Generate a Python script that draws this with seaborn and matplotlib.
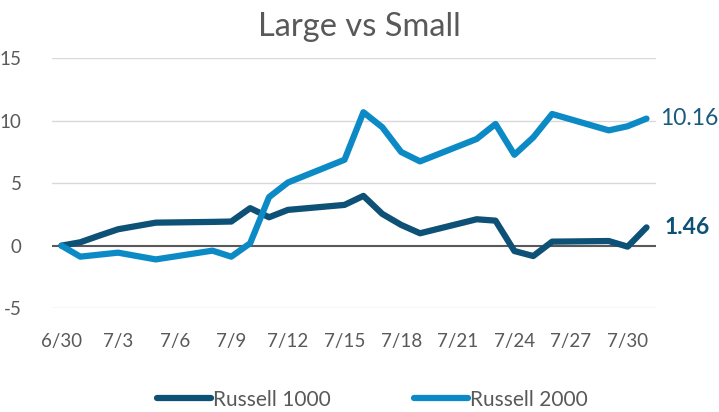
import matplotlib
matplotlib.use("Agg")
import matplotlib.pyplot as plt
import seaborn as sns
import pandas as pd
from matplotlib.lines import Line2D

dates = ["2024-06-30", "2024-07-01", "2024-07-02", "2024-07-03", "2024-07-05",
         "2024-07-08", "2024-07-09", "2024-07-10", "2024-07-11", "2024-07-12",
         "2024-07-15", "2024-07-16", "2024-07-17", "2024-07-18", "2024-07-19",
         "2024-07-22", "2024-07-23", "2024-07-24", "2024-07-25", "2024-07-26",
         "2024-07-29", "2024-07-30", "2024-07-31"]
russell_1000 = [0.0, 0.27, 0.80, 1.31, 1.84, 1.90, 1.93, 3.00, 2.27, 2.86,
                3.26, 3.98, 2.54, 1.66, 0.99, 2.11, 2.00, -0.43, -0.83, 0.32,
                0.37, -0.08, 1.46]
russell_2000 = [0.0, -0.88, -0.72, -0.56, -1.10, -0.40, -0.88, 0.19, 3.88, 5.05,
                6.87, 10.67, 9.47, 7.49, 6.74, 8.53, 9.73, 7.27, 8.66, 10.53,
                9.22, 9.55, 10.16]
series_names = ["Russell 1000", "Russell 2000"]
tick_labels = ["6/30", "7/3", "7/6", "7/9", "7/12", "7/15", "7/18", "7/21", "7/24", "7/27", "7/30"]
y_ticks = [-5, 0, 5, 10, 15]

dark = "#0D5176"
light = "#0C8AC6"
grey = "#595959"

df = pd.DataFrame({
    "date": pd.to_datetime(dates * 2),
    "value": russell_1000 + russell_2000,
    "series": [series_names[0]] * len(dates) + [series_names[1]] * len(dates),
})

sns.set_theme(style="white")
plt.rcParams["font.family"] = ["Lato", "DejaVu Sans"]

fig = plt.figure(figsize=(7.19, 4.12), dpi=100)
ax = fig.add_axes([0.0723, 0.252, 0.8400, 0.607])

for y in y_ticks:
    if y != 0:
        ax.axhline(y, color="#D9D9D9", lw=1.0, zorder=0)
ax.axhline(0, color=grey, lw=1.5, zorder=1)

sns.lineplot(data=df, x="date", y="value", hue="series",
             palette={series_names[0]: dark, series_names[1]: light},
             linewidth=4.5, ax=ax, legend=False, zorder=3)

start = pd.Timestamp(dates[0])
end = pd.Timestamp(dates[-1])
ax.set_xlim(start - pd.Timedelta(hours=12), end + pd.Timedelta(hours=12))
ax.set_ylim(-5, 15)
tick_dates = [pd.Timestamp("2024-06-30") + pd.Timedelta(days=3 * i) for i in range(len(tick_labels))]
ax.set_xticks(tick_dates)
ax.set_xticklabels(tick_labels)
ax.set_yticks(y_ticks)
ax.set_yticklabels([str(v) for v in y_ticks])
ax.tick_params(axis="x", colors=grey, labelsize=13.5, pad=18, length=0)
ax.tick_params(axis="y", colors=grey, labelsize=13.5, pad=22, length=0)
for lab in ax.get_yticklabels():
    lab.set_horizontalalignment("right")
for s in ax.spines.values():
    s.set_visible(False)
ax.set_xlabel("")
ax.set_ylabel("")

ax.annotate(f"{russell_2000[-1]:.2f}", xy=(end, russell_2000[-1]), xytext=(10, 0),
            textcoords="offset points", va="center", ha="left", fontsize=16.5,
            color="#1A5A7D", annotation_clip=False)
ax.annotate(f"{russell_1000[-1]:.2f}", xy=(end, russell_1000[-1]), xytext=(13, 0),
            textcoords="offset points", va="center", ha="left", fontsize=16.5,
            fontweight="bold", color=dark, annotation_clip=False)

fig.text(0.5, 0.935, "Large vs Small", ha="center", va="center", fontsize=23.5, color=grey)

handles = [Line2D([0], [0], color=dark, lw=4.5, solid_capstyle="round"),
           Line2D([0], [0], color=light, lw=4.5, solid_capstyle="round")]
fig.legend(handles, series_names, loc="center", bbox_to_anchor=(0.518, 0.03), ncol=2,
           frameon=False, fontsize=15, labelcolor=grey, handlelength=2.6,
           handletextpad=0.1, columnspacing=4.0)

fig.savefig("out.png", dpi=100)
